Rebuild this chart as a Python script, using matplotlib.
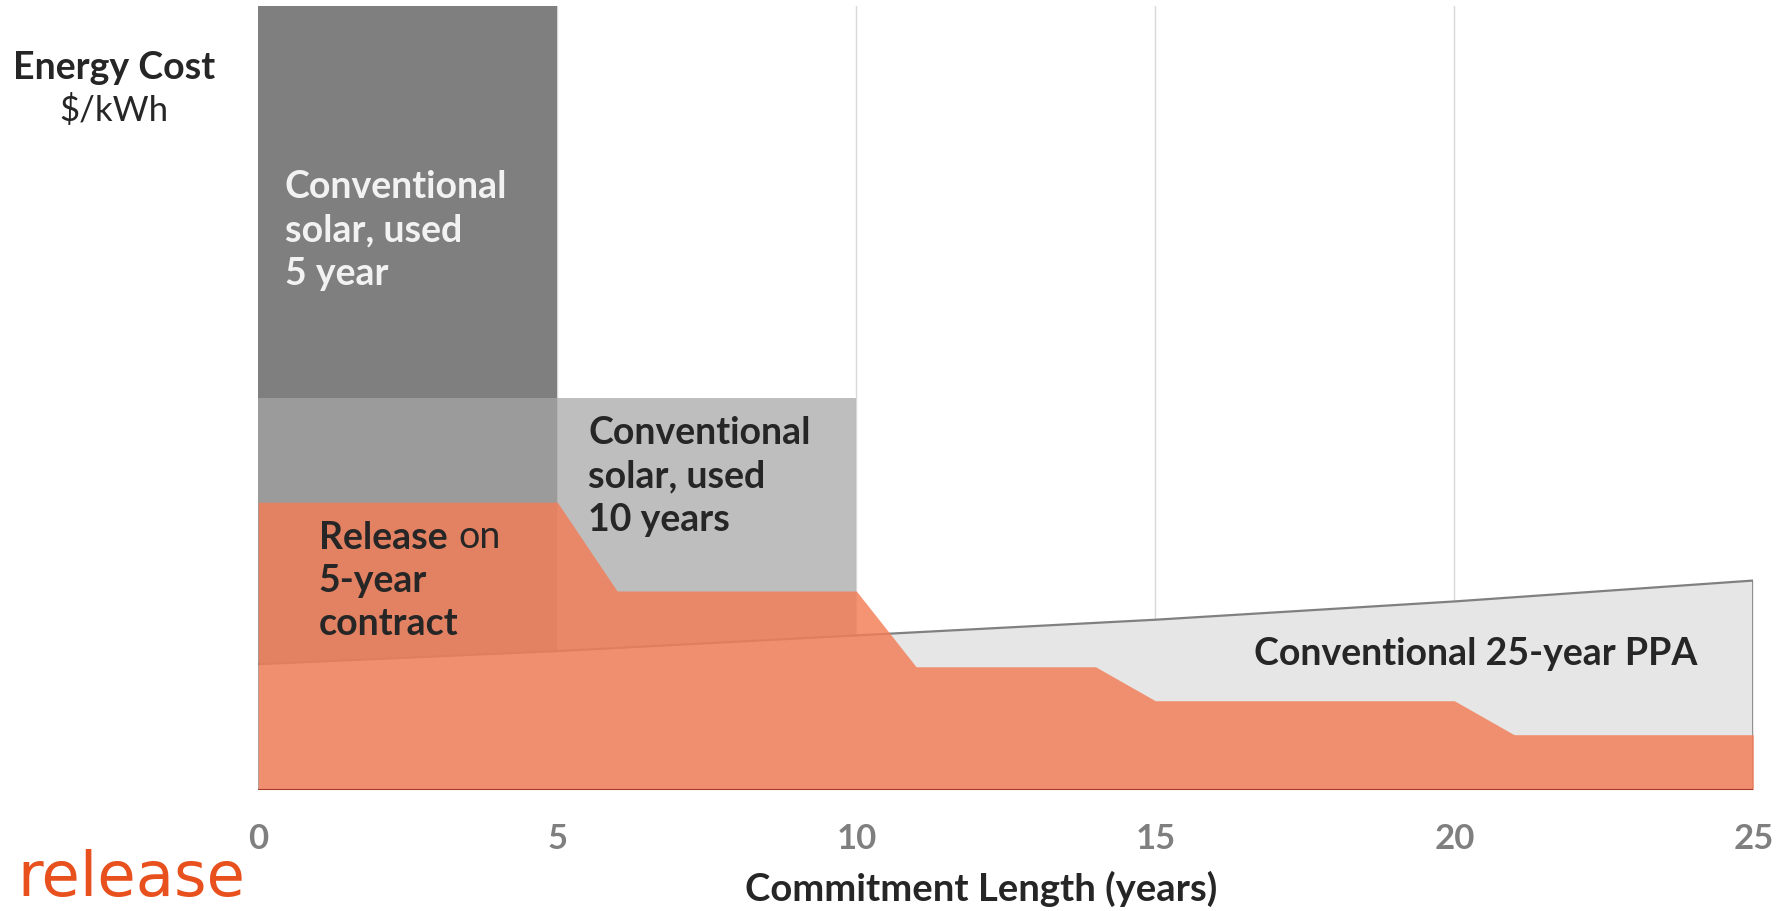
import matplotlib
matplotlib.use('Agg')
import matplotlib.pyplot as plt

# data (cost in arbitrary units, axis top = 30)
years_5yr = [0, 5]
cost_5yr = [30, 30]
years_10yr = [0, 10]
cost_10yr = [15, 15]
ppa_years = [0, 5, 10, 15, 20, 25]
ppa_cost = [4.8, 5.3, 5.9, 6.5, 7.2, 8.0]
release_years = [0, 5, 6, 10, 11, 14, 15, 20, 21, 25]
release_cost = [11, 11, 7.6, 7.6, 4.7, 4.7, 3.4, 3.4, 2.1, 2.1]
xticks = [0, 5, 10, 15, 20, 25]

plt.rcParams['font.family'] = ['Lato', 'DejaVu Sans']
dark = '#262626'
fs = 27

fig = plt.figure(figsize=(17.84, 9.11), dpi=100)
ax = fig.add_axes([0.1448, 0.1333, 0.838, 0.8604])

# gridlines
for x in xticks[1:-1]:
    ax.axvline(x, color='#d9d9d9', lw=1, zorder=0)

# conventional 5-year (dark bar)
ax.fill_between(years_5yr, 0, cost_5yr, color='#7f7f7f', lw=0, zorder=1)
# conventional 10-year
ax.fill_between(years_10yr, 0, cost_10yr, color='#a6a6a6', alpha=0.72, lw=0, zorder=2)
# 25-year PPA
ax.fill_between(ppa_years, 0, ppa_cost, color='#e6e6e6', lw=0, zorder=3)
ax.plot(ppa_years, ppa_cost, color='#808080', lw=1.6, zorder=3.5)
ax.plot([25, 25], [0, ppa_cost[-1]], color='#808080', lw=1.2, zorder=3.5)
# release
ax.fill_between(release_years, 0, release_cost, color='#f27e57', alpha=0.83, lw=0, zorder=4)
ax.axhline(0, color='#a8392a', lw=2.2, zorder=5)

ax.set_xlim(0, 25)
ax.set_ylim(0, 30)
for s in ax.spines.values():
    s.set_visible(False)
ax.set_yticks([])
ax.set_xticks(xticks)
ax.set_xticklabels([str(x) for x in xticks], fontsize=25, fontweight='bold', color='#7f7f7f')
ax.tick_params(axis='x', length=0, pad=24)

# labels inside
ax.text(0.44, 21.4, 'Conventional\nsolar, used\n5 year', color='#f2f2f2', fontsize=fs,
        fontweight='bold', ha='left', va='center', linespacing=1.34, zorder=6)
ax.text(5.52, 11.97, 'Conventional\nsolar, used\n10 years', color=dark, fontsize=fs,
        fontweight='bold', ha='left', va='center', linespacing=1.34, zorder=6)
t = ax.text(1.01, 9.62, 'Release', color=dark, fontsize=fs, fontweight='bold',
            ha='left', va='center', zorder=6)
ax.annotate('on', xy=(1, 0), xycoords=t, xytext=(8, 0), textcoords='offset points',
            color=dark, fontsize=fs, ha='left', va='bottom', zorder=6)
ax.text(1.01, 7.16, '5-year\ncontract', color=dark, fontsize=fs, fontweight='bold',
        ha='left', va='center', linespacing=1.34, zorder=6)
ax.text(24.07, 5.18, 'Conventional 25-year PPA', color=dark, fontsize=fs,
        fontweight='bold', ha='right', va='center', zorder=6)

# axis titles
fig.text(0.064, 0.925, 'Energy Cost', color=dark, fontsize=27, fontweight='bold',
         ha='center', va='center')
fig.text(0.064, 0.879, '$/kWh', color=dark, fontsize=25, ha='center', va='center')
fig.text(0.5497, 0.0246, 'Commitment Length (years)', color=dark, fontsize=27.5,
         fontweight='bold', ha='center', va='center')

# logo
fig.text(0.0095, 0.016, 'release', color='#e8501e', fontsize=45, family='DejaVu Sans',
         ha='left', va='baseline')

fig.savefig('out.png', dpi=100)
